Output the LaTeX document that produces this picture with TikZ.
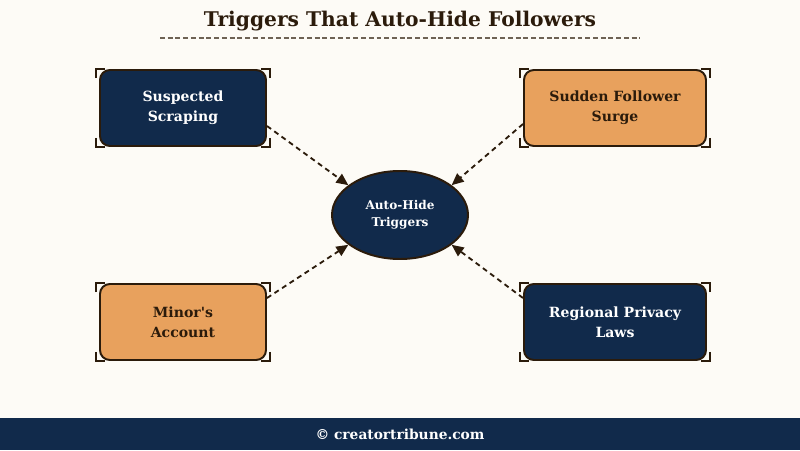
\documentclass[tikz,border=0pt]{standalone}
\usepackage{fontspec}
\setmainfont{DejaVu Serif}
\usetikzlibrary{shapes.geometric,arrows.meta}
\definecolor{cream}{HTML}{FDFBF6}
\definecolor{navy}{HTML}{112A4B}
\definecolor{peach}{HTML}{E8A15D}
\definecolor{ink}{HTML}{2B1B0B}
\definecolor{rule}{HTML}{6E6254}
\tikzset{
  trigger/.style={rectangle,rounded corners=7pt,draw=ink,line width=1.4pt,
    minimum height=1.9cm,align=center,font=\bfseries\fontsize{10}{14.2}\selectfont},
  darkbox/.style={trigger,fill=navy,text=white},
  lightbox/.style={trigger,fill=peach,text=ink},
  hub/.style={ellipse,draw=ink,line width=1.4pt,fill=navy,text=white,
    minimum width=3.4cm,minimum height=2.2cm,align=center,
    font=\bfseries\fontsize{8.6}{12.2}\selectfont},
  link/.style={draw=ink,line width=1.3pt,dash pattern=on 3.6pt off 2.8pt,
    -{Triangle[length=8.5pt,width=7.5pt]}},
  bracket/.style={draw=ink,line width=1.3pt}
}
\begin{document}
\begin{tikzpicture}
\useasboundingbox (0,0) rectangle (20,11.25);
\fill[cream] (0,0) rectangle (20,11.25);
% title
\node[text=ink,font=\bfseries\fontsize{14.4}{16}\selectfont] (title) at (10,10.73) {Triggers That Auto-Hide Followers};
\draw[rule,line width=0.9pt,dash pattern=on 3.5pt off 2pt] (4,10.3) -- (16,10.3);
% center
\node[hub] (hide) at (10,5.875) {Auto-Hide\\Triggers};
% triggers
\node[darkbox,minimum width=4.15cm] (scrape) at (4.575,8.55) {Suspected\\Scraping};
\node[lightbox,minimum width=4.55cm] (surge) at (15.375,8.55) {Sudden Follower\\Surge};
\node[lightbox,minimum width=4.15cm] (minor) at (4.575,3.2) {Minor\textquotesingle s\\Account};
\node[darkbox,minimum width=4.55cm] (privacy) at (15.375,3.2) {Regional Privacy\\Laws};
% corner marks
\foreach \n in {scrape,surge,minor,privacy}{
  \draw[bracket] ([shift={(-0.075,-0.23)}]\n.north west) -- ++(0,0.23) -- ++(0.23,0);
  \draw[bracket] ([shift={(0.075,-0.23)}]\n.north east) -- ++(0,0.23) -- ++(-0.23,0);
  \draw[bracket] ([shift={(-0.075,0.23)}]\n.south west) -- ++(0,-0.23) -- ++(0.23,0);
  \draw[bracket] ([shift={(0.075,0.23)}]\n.south east) -- ++(0,-0.23) -- ++(-0.23,0);
}
% arrows
\draw[link] ([yshift=-0.45cm]scrape.east) -- (hide.150);
\draw[link] ([yshift=-0.4cm]surge.west) -- (hide.30);
\draw[link] ([yshift=0.6cm]minor.east) -- (hide.210);
\draw[link] ([yshift=0.6cm]privacy.west) -- (hide.330);
% footer
\fill[navy] (0,0) rectangle (20,0.8);
\node[text=white,font=\bfseries\fontsize{9.8}{11}\selectfont] (site) at (10,0.4) {© creatortribune.com};
\end{tikzpicture}
\end{document}
